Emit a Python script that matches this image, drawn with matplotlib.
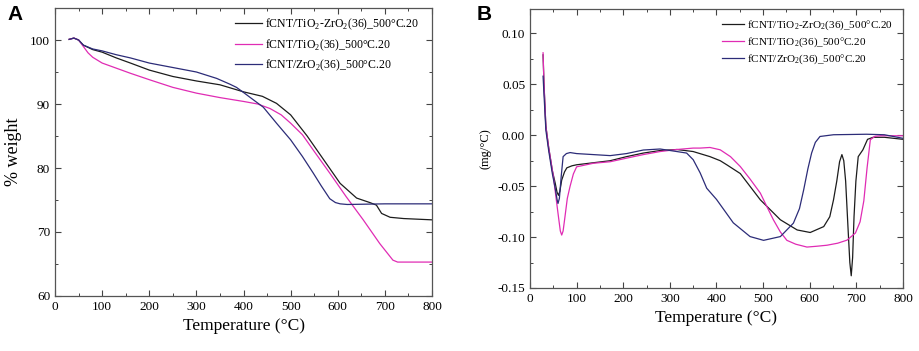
import numpy as np
import matplotlib
matplotlib.use('Agg')
import matplotlib.pyplot as plt
from matplotlib.ticker import MultipleLocator

plt.rcParams['font.family'] = ['Liberation Serif', 'DejaVu Serif']
plt.rcParams['mathtext.fontset'] = 'custom'
plt.rcParams['mathtext.rm'] = 'Liberation Serif'

labels = ['fCNT/TiO$_2$-ZrO$_2$(36)_500°C.20',
          'fCNT/TiO$_2$(36)_500°C.20',
          'fCNT/ZrO$_2$(36)_500°C.20']
colors = ['#1c1c1c', '#e02cb4', '#2c2c78']

# A: TGA (% weight)
t_a_tz = [30, 40, 50, 60, 80, 100, 130, 160, 200, 250, 300, 350, 400, 440, 470, 500,
          535, 570, 605, 640, 668, 682, 693, 711, 740, 800]
w_tz = [100.1, 100.3, 100.0, 99.2, 98.5, 98.1, 97.2, 96.4, 95.3, 94.3, 93.6, 93.0, 91.9,
        91.2, 90.1, 88.3, 85.0, 81.3, 77.6, 75.3, 74.6, 74.2, 72.9, 72.3, 72.1, 71.9]

t_a_ti = [30, 40, 50, 60, 70, 80, 100, 130, 160, 200, 250, 300, 350, 400, 430, 456, 480,
          500, 525, 548, 583, 618, 654, 689, 717, 727, 800]
w_ti = [100.1, 100.3, 100.0, 99.0, 98.0, 97.3, 96.4, 95.6, 94.8, 93.8, 92.6, 91.7, 91.0,
        90.4, 90.0, 89.3, 88.3, 87.0, 85.2, 82.8, 79.2, 75.5, 71.9, 68.2, 65.6, 65.3, 65.3]

t_a_zr = [30, 40, 50, 60, 80, 100, 130, 160, 200, 250, 300, 343, 371, 385, 400, 420, 442,
          470, 500, 525, 548, 565, 583, 595, 605, 620, 700, 800]
w_zr = [100.1, 100.3, 100.0, 99.2, 98.6, 98.3, 97.7, 97.2, 96.4, 95.7, 95.0, 94.0, 93.1,
        92.6, 91.8, 90.7, 89.5, 87.0, 84.4, 81.8, 79.2, 77.2, 75.2, 74.6, 74.4, 74.3, 74.4, 74.4]

# B: DTG (mg/°C)
t_b_tz = [28, 30, 34, 40, 48, 54, 58, 61, 64, 68, 74, 79, 90, 100, 136, 172, 207, 243, 279,
          315, 350, 386, 408, 422, 451, 494, 537, 573, 601, 630, 643, 651, 658, 664, 669,
          673, 677, 682, 686, 689, 692, 695, 699, 704, 714, 724, 736, 760, 800]
d_tz = [0.079, 0.05, 0.009, -0.012, -0.035, -0.047, -0.056, -0.059, -0.055, -0.044, -0.036,
        -0.032, -0.030, -0.029, -0.027, -0.025, -0.021, -0.0175, -0.015, -0.014, -0.016,
        -0.021, -0.025, -0.029, -0.0376, -0.0634, -0.083, -0.093, -0.0955, -0.0897, -0.08,
        -0.0634, -0.045, -0.026, -0.019, -0.025, -0.045, -0.09, -0.125, -0.138, -0.12,
        -0.08, -0.045, -0.021, -0.0143, -0.004, -0.002, -0.002, -0.004]

t_b_ti = [28, 30, 34, 40, 50, 56, 61, 65, 68, 71, 75, 80, 86, 93, 100, 136, 172, 207, 243,
          279, 315, 350, 365, 386, 408, 430, 451, 472, 494, 508, 522, 537, 551, 570, 594,
          615, 637, 660, 680, 698, 708, 716, 723, 730, 740, 752, 800]
d_ti = [0.081, 0.05, 0.009, -0.012, -0.040, -0.062, -0.080, -0.094, -0.098, -0.094, -0.080,
        -0.062, -0.050, -0.038, -0.031, -0.0275, -0.026, -0.0225, -0.019, -0.016, -0.014,
        -0.0126, -0.0126, -0.012, -0.0143, -0.021, -0.0307, -0.043, -0.0568, -0.07, -0.083,
        -0.095, -0.1032, -0.107, -0.1098, -0.109, -0.108, -0.106, -0.103, -0.096, -0.085,
        -0.0644, -0.032, -0.0044, -0.001, -0.0005, -0.0005]

t_b_zr = [28, 30, 34, 40, 48, 54, 58, 60, 63, 67, 71, 78, 86, 100, 136, 172, 207, 243, 279,
          315, 336, 350, 365, 379, 400, 436, 472, 501, 537, 565, 578, 587, 596, 604, 612,
          622, 651, 722, 760, 800]
d_zr = [0.058, 0.04, 0.005, -0.015, -0.038, -0.052, -0.063, -0.067, -0.062, -0.040, -0.021,
        -0.018, -0.017, -0.018, -0.019, -0.020, -0.018, -0.0145, -0.0135, -0.016, -0.0175,
        -0.024, -0.037, -0.052, -0.063, -0.086, -0.0995, -0.1032, -0.0995, -0.0863, -0.072,
        -0.0536, -0.033, -0.0175, -0.007, -0.0012, 0.0005, 0.001, 0.0005, -0.003]

fig = plt.figure(figsize=(9.2, 3.51), dpi=100)
ax1 = fig.add_axes([0.0598, 0.1567, 0.4098, 0.8205])
ax2 = fig.add_axes([0.5761, 0.1795, 0.4054, 0.7949])

for t, w, c, lab in zip([t_a_tz, t_a_ti, t_a_zr], [w_tz, w_ti, w_zr], colors, labels):
    ax1.plot(t, w, color=c, lw=0.9, label=lab)
for t, d, c, lab in zip([t_b_tz, t_b_ti, t_b_zr], [d_tz, d_ti, d_zr], colors, labels):
    ax2.plot(t, d, color=c, lw=0.9, label=lab)

ax1.set_xlim(0, 800)
ax1.set_ylim(60, 105)
ax1.yaxis.set_major_locator(MultipleLocator(10))
ax1.yaxis.set_minor_locator(MultipleLocator(5))
ax1.set_ylabel('% weight', fontsize=13, labelpad=6)

ax2.set_xlim(0, 800)
ax2.set_ylim(-0.15, 0.124)
ax2.yaxis.set_major_locator(MultipleLocator(0.05))
ax2.yaxis.set_minor_locator(MultipleLocator(0.025))
ax2.yaxis.set_major_formatter(plt.FuncFormatter(lambda v, p: '%.2f' % v))
ax2.set_ylabel('(mg/°C)', fontsize=9, labelpad=4)

for ax in (ax1, ax2):
    ax.xaxis.set_major_locator(MultipleLocator(100))
    ax.xaxis.set_minor_locator(MultipleLocator(50))
    ax.tick_params(which='both', direction='in', top=True, right=True, labelsize=9.5,
                   color='#444444')
    ax.tick_params(which='major', length=4, width=0.8)
    ax.tick_params(which='minor', length=2.5, width=0.7)
    ax.set_xlabel('Temperature (°C)', fontsize=12.5, labelpad=4)
    for s in ax.spines.values():
        s.set_color('#555555')
        s.set_linewidth(0.9)

ax1.legend(loc='upper left', bbox_to_anchor=(0.462, 0.99), frameon=False, fontsize=8.5,
           handlelength=2.3, handletextpad=0.25, labelspacing=0.42, borderpad=0)
ax2.legend(loc='upper left', bbox_to_anchor=(0.5, 0.985), frameon=False, fontsize=8,
           handlelength=2.0, handletextpad=0.25, labelspacing=0.32, borderpad=0)

fig.text(0.008, 0.985, 'A', family='Liberation Sans', fontweight='bold', fontsize=15, va='top')
fig.text(0.518, 0.985, 'B', family='Liberation Sans', fontweight='bold', fontsize=15, va='top')

plt.savefig('out.png', dpi=100)
